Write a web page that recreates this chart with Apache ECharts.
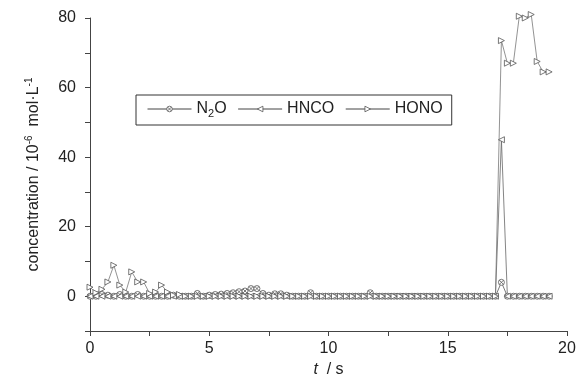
<!DOCTYPE html>
<html><head><meta charset="utf-8">
<script src="https://cdn.jsdelivr.net/npm/echarts@6/dist/echarts.min.js"></script>
<style>html,body{margin:0;padding:0;background:#fff}#c{width:583px;height:385px}</style>
</head><body><div id="c"></div>
<script>
var t = [0,0.25,0.5,0.75,1,1.25,1.5,1.75,2,2.25,2.5,2.75,3,3.25,3.5,3.75,4,4.25,4.5,4.75,
5,5.25,5.5,5.75,6,6.25,6.5,6.75,7,7.25,7.5,7.75,8,8.25,8.5,8.75,9,9.25,9.5,9.75,
10,10.25,10.5,10.75,11,11.25,11.5,11.75,12,12.25,12.5,12.75,13,13.25,13.5,13.75,14,14.25,14.5,14.75,
15,15.25,15.5,15.75,16,16.25,16.5,16.75,17,17.25,17.5,17.75,18,18.25,18.5,18.75,19,19.25];
var n2o = [0,0,0.5,0.3,0,0.5,0,0,0.5,0,0,0,0,0,0.3,0,0,0,0.8,0,
0.3,0.5,0.6,0.8,1.0,1.3,1.5,2.2,2.2,0.8,0.3,0.7,0.7,0.3,0,0,0,1.0,0,0,
0,0,0,0,0,0,0,1.0,0,0,0,0,0,0,0,0,0,0,0,0,
0,0,0,0,0,0,0,0,0,4,0,0,0,0,0,0,0,0];
var hnco = [0,0,0,0,0,0,0,0,0,0,0,0,0,0,0,0,0,0,0,0,
0,0,0,0,0,0,0,0,0,0,0,0,0,0,0,0,0,0,0,0,
0,0,0,0,0,0,0,0,0,0,0,0,0,0,0,0,0,0,0,0,
0,0,0,0,0,0,0,0,0,45,0,0,0,0,0,0,0,0];
var hono = [2.6,1,2,4.1,8.9,3.2,1.2,7,4.1,4.1,0.8,1.2,3.2,1.2,0.3,0.5,0,0,0,0,
0,0,0,0,0,0,0,0,0,0,0,0,0,0,0,0,0,0,0,0,
0,0,0,0,0,0,0,0,0,0,0,0,0,0,0,0,0,0,0,0,
0,0,0,0,0,0,0,0,0,73.5,67,67,80.5,80,81,67.5,64.5,64.5];
var names = ['N2O','HNCO','HONO'];

function pairs(v){ return v.map(function(y,i){ return [t[i], y]; }); }
var FONT = '"Liberation Sans",Arial,sans-serif';
var symX = 'path://M5,0 A5,5 0 1,1 4.99,0 Z M1.5,1.5 L8.5,8.5 M8.5,1.5 L1.5,8.5';
var symL = 'path://M0,5 L10,0 L10,10 Z';
var symR = 'path://M10,5 L0,0 L0,10 Z';
function ser(name, data, sym, lc){
  return {name:name, type:'line', data:pairs(data), symbol:sym, symbolSize:6, showSymbol:true, clip:false,
    lineStyle:{color:lc, width:0.8}, itemStyle:{color:'#fff', borderColor:'#555', borderWidth:0.8},
    animation:false};
}
var chart = echarts.init(document.getElementById('c'));
chart.setOption({
  animation:false,
  textStyle:{fontFamily:FONT},
  grid:{left:90, right:16, top:18, bottom:54},
  legend:{left:136, top:95, orient:'horizontal', itemWidth:44, itemHeight:7, itemGap:11,
    padding:[6,9,6,11], borderColor:'#333', borderWidth:1,
    data:names.map(function(n){ return {name:n, itemStyle:{color:'#fff', borderColor:'#555', borderWidth:0.8}, lineStyle:{color:'#444', width:1}}; }),
    textStyle:{fontFamily:FONT, fontSize:16, color:'#222',
      rich:{a:{fontFamily:FONT,fontSize:16,color:'#222'}, s:{fontFamily:FONT,fontSize:11,color:'#222',padding:[9,0,0,0]}}},
    formatter:function(n){ return n==='N2O' ? '{a|N}{s|2}{a|O}' : '{a|'+n+'}'; }},
  xAxis:{type:'value', min:0, max:20, interval:2.5,
    axisLine:{onZero:false, lineStyle:{color:'#444', width:1}},
    axisTick:{inside:false, length:5, lineStyle:{color:'#444'}},
    splitLine:{show:false},
    axisLabel:{fontSize:16, color:'#222', margin:10, fontFamily:FONT,
      formatter:function(v){ return v%5===0 ? String(v) : ''; }},
    name:'{i|t}  / s', nameLocation:'middle', nameGap:28,
    nameTextStyle:{fontSize:16, color:'#222', fontFamily:FONT,
      rich:{i:{fontStyle:'italic', fontSize:16, color:'#222', fontFamily:FONT}}}},
  yAxis:{type:'value', min:-10, max:80, interval:10,
    axisLine:{show:true, onZero:false, lineStyle:{color:'#444', width:1}},
    axisTick:{show:true, inside:false, length:5, lineStyle:{color:'#444'}},
    splitLine:{show:false},
    axisLabel:{fontSize:16, color:'#222', margin:14, fontFamily:FONT,
      formatter:function(v){ return v%20===0 ? String(v) : ''; }},
    name:'concentration / 10{sup|-6}  mol·L{sup|-1}', nameLocation:'middle', nameGap:46,
    nameTextStyle:{fontSize:16, color:'#222', fontFamily:FONT,
      rich:{sup:{fontSize:10, color:'#222', fontFamily:FONT, padding:[0,0,10,0]}}}},
  series:[ser('N2O', n2o, symX, '#555'), ser('HNCO', hnco, symL, '#666'), ser('HONO', hono, symR, '#777')]
});
</script></body></html>
